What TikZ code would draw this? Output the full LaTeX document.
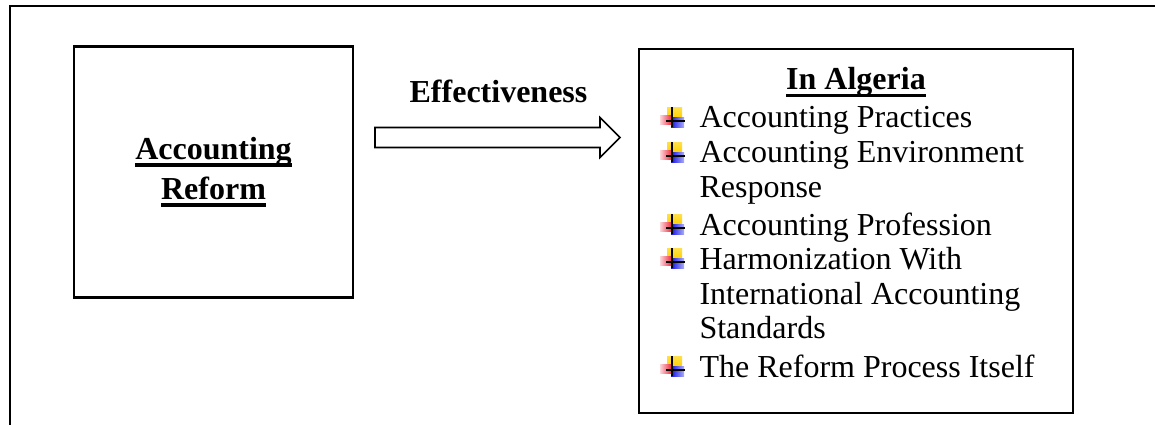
\documentclass[tikz,border=0pt]{standalone}
\usepackage{fontspec}
\setmainfont{Liberation Serif}
\usetikzlibrary{calc}

% bold text with a heavy underline
\newsavebox\ulbox
\newcommand\ulbold[1]{\sbox\ulbox{\bfseries #1}\rlap{\rule[-2.6pt]{\wd\ulbox}{1.2pt}}\usebox\ulbox}

\definecolor{bulyellow}{RGB}{255,210,0}
\definecolor{bulred}{RGB}{240,50,70}
\definecolor{bulblue}{RGB}{20,20,230}

\tikzset{
  frame/.style={draw=black, line width=0.9pt},
  boxnode/.style={draw=black, line width=0.9pt, inner sep=0pt, fill=white},
  txt/.style={inner sep=0pt, font=\fontsize{12pt}{12.94pt}\selectfont},
  itemline/.style={txt, anchor=base west},
  blockarrow/.style={draw=black, line width=0.6pt, fill=white, line join=miter},
  bulleticon/.pic={
    \shade[top color=bulyellow!70, bottom color=bulyellow] (7,-21) rectangle (22,-11);
    \shade[left color=bulred!20, right color=bulred] (0,-13) rectangle (11,-4);
    \shade[left color=bulblue, right color=bulblue!35] (11,-11) rectangle (24,-1);
    \draw[line width=0.7pt] (12,-21) -- (12,-1);
    \draw[line width=0.7pt] (6,-7) -- (25,-7);
  }
}

\begin{document}
\begin{tikzpicture}[x=0.375pt, y=-0.375pt]
  \useasboundingbox (0,0) rectangle (1155,425);
  \clip (0,0) rectangle (1155,425);

  % outer frame (top and left edges)
  \coordinate (frameTR) at (1160,6);
  \coordinate (frameTL) at (10,6);
  \coordinate (frameBL) at (10,430);
  \draw[frame] (frameTR) -- (frameTL) -- (frameBL);

  % left box
  \node[boxnode, minimum width=104.6pt, minimum height=94pt, align=center,
        font=\fontsize{12pt}{15pt}\selectfont]
    (reform) at (213.5,172) {\ulbold{Accounting}\\\ulbold{Reform}};

  % right box
  \node[boxnode, minimum width=162.75pt, minimum height=136.5pt]
    (algeria) at (856,231) {};

  % block arrow
  \coordinate (arrtail) at (375,137.5);
  \coordinate (arrtip) at (620,137.5);
  \draw[blockarrow]
    ($(arrtail)+(0,-10)$) -- ($(arrtip)+(-20,-10)$) -- ($(arrtip)+(-20,-20)$)
    -- (arrtip) -- ($(arrtip)+(-20,20)$) -- ($(arrtip)+(-20,10)$)
    -- ($(arrtail)+(0,10)$) -- cycle;
  \node[txt, anchor=base, font=\fontsize{12pt}{12.94pt}\selectfont\bfseries]
    (eff) at (498.5,102) {Effectiveness};

  % list inside the right box
  \node[txt, anchor=base] (title) at (856,90) {\ulbold{In Algeria}};

  \pic at (660,128) {bulleticon};
  \node[itemline] (i1) at (699,128) {Accounting Practices};
  \pic at (660,163) {bulleticon};
  \node[itemline] (i2a) at (699,163) {Accounting Environment};
  \node[itemline] (i2b) at (699,197) {Response};
  \pic at (660,235) {bulleticon};
  \node[itemline] (i3) at (699,235) {Accounting Profession};
  \pic at (660,269) {bulleticon};
  \node[itemline] (i4a) at (699,269) {Harmonization With};
  \node[itemline] (i4b) at (699,304) {International Accounting};
  \node[itemline] (i4c) at (699,338) {Standards};
  \pic at (660,377) {bulleticon};
  \node[itemline] (i5) at (699,377) {The Reform Process Itself};
\end{tikzpicture}
\end{document}
